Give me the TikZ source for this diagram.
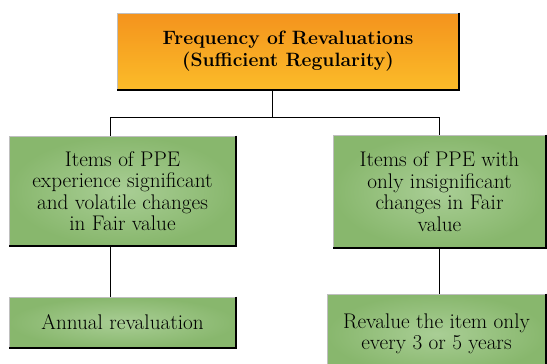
\documentclass[tikz,border=0pt]{standalone}
\usetikzlibrary{calc}
\definecolor{orangetop}{HTML}{F4931D}
\definecolor{orangebot}{HTML}{FBBC29}
\definecolor{greenedge}{HTML}{88B76D}
\definecolor{greenmid}{HTML}{A9CE95}

\begin{document}
\begin{tikzpicture}[x=1pt,y=-1pt,
    box/.style={draw=gray!50,line width=0.8pt,align=center,inner sep=0pt,font=\fontsize{21.2}{21.5}\selectfont},
    headbox/.style={box,top color=orangetop,bottom color=orangebot,font=\bfseries\fontsize{19.3}{22}\selectfont},
    itembox/.style={box,inner color=greenmid,outer color=greenedge},
    link/.style={line width=1pt}]
    \useasboundingbox (0,0) rectangle (547,364);
    \clip (0,0) rectangle (547,364);
    \node[headbox,minimum width=342pt,minimum height=77pt] (freq) at (288,51.5) {Frequency of Revaluations\\(Sufficient Regularity)};
    \node[itembox,minimum width=227pt,minimum height=110pt] (vol) at (122.5,191) {Items of PPE\\experience significant\\and volatile changes\\in Fair value};
    \node[itembox,minimum width=213pt,minimum height=113pt] (insig) at (439.5,191.5) {Items of PPE with\\only insignificant\\changes in Fair\\value};
    \node[itembox,minimum width=227pt,minimum height=51pt] (annual) at (122.5,322.5) {Annual revaluation};
    \node[itembox,minimum width=219pt,minimum height=80pt] (periodic) at (436.5,334) {Revalue the item only\\every 3 or 5 years};
    \foreach \n in {freq,vol,insig,annual,periodic}
      \draw[line width=2pt] (\n.north east) -- (\n.south east) -- (\n.south west);
    \coordinate (hub) at (272,117);
    \coordinate (lbend) at (110,117);
    \coordinate (rbend) at (439,117);
    \draw[link] (freq.south -| hub) -- (hub);
    \draw[link] (vol.north -| lbend) -- (lbend) -- (rbend) -- (insig.north -| rbend);
    \draw[link] (vol.south -| lbend) -- (annual.north -| lbend);
    \draw[link] (insig.south -| rbend) -- (periodic.north -| rbend);
  \end{tikzpicture}
\end{document}
